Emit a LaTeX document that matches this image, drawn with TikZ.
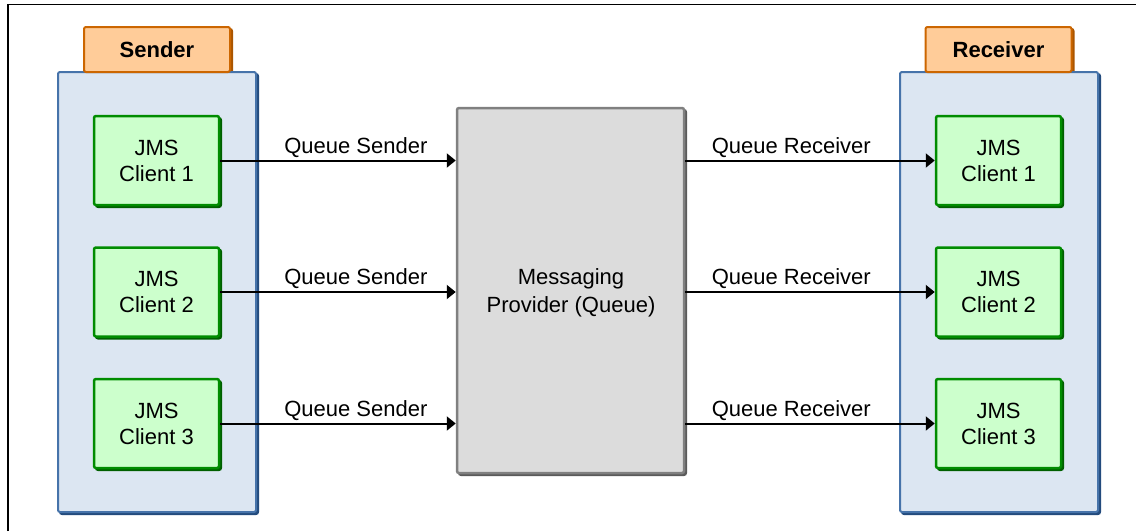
\documentclass[tikz,border=0pt]{standalone}
\usepackage{fontspec}
\setmainfont{Liberation Sans}
\usetikzlibrary{arrows.meta}

\definecolor{tabfill}{RGB}{255,204,153}
\definecolor{tabline}{RGB}{204,102,0}
\definecolor{tabshade}{RGB}{170,85,0}
\definecolor{grpfill}{RGB}{220,230,242}
\definecolor{grpline}{RGB}{70,115,170}
\definecolor{grpshade}{RGB}{35,75,125}
\definecolor{clifill}{RGB}{204,255,204}
\definecolor{cliline}{RGB}{0,140,0}
\definecolor{clishade}{RGB}{0,95,0}
\definecolor{provfill}{RGB}{220,220,220}
\definecolor{provline}{RGB}{128,128,128}
\definecolor{provshade}{RGB}{90,90,90}

\tikzset{
  box/.style={rectangle, rounded corners=2pt, inner sep=0pt, align=center,
    font=\fontsize{22}{26}\selectfont},
  shade/.style={box, fill=#1, draw=#1, line width=2pt},
  tabbox/.style={box, fill=tabfill, draw=tabline, line width=2pt,
    minimum width=146pt, minimum height=45pt, font=\fontsize{22}{26}\selectfont\bfseries},
  grpbox/.style={box, fill=grpfill, draw=grpline, line width=2pt,
    minimum width=198pt, minimum height=440pt},
  clibox/.style={box, fill=clifill, draw=cliline, line width=2.5pt,
    minimum width=125pt, minimum height=89pt},
  provbox/.style={box, fill=provfill, draw=provline, line width=2.5pt,
    minimum width=227pt, minimum height=365pt, font=\fontsize{22}{28}\selectfont},
  flow/.style={line width=2pt, -{Triangle[length=9pt,width=14pt]}},
  flowlabel/.style={anchor=base, yshift=7.5pt, inner sep=0pt,
    font=\fontsize{22}{26}\selectfont},
}

\begin{document}
\begin{tikzpicture}[x=1pt, y=-1pt]
  \useasboundingbox (0,0) rectangle (1136,531);

  % frame, open at the bottom and right
  \draw[line width=1.2pt] (8,531) -- (8,4.5) -- (1136,4.5);

  % drop shadows (darker copies offset to the lower right)
  \foreach \cx/\cy/\w/\h/\c in {157/292/198/440/grpshade, 999/292/198/440/grpshade,
      157/49.5/146/45/tabshade, 998.5/49.5/146/45/tabshade,
      570.5/290.5/227/365/provshade} {
    \node[shade=\c, minimum width=\w pt, minimum height=\h pt] at (\cx+2,\cy+2) {};
  }

  % sender side
  \node[grpbox] (sgrp) at (157,292) {};
  \node[tabbox] (stab) at (157,49.5) {Sender};
  % receiver side
  \node[grpbox] (rgrp) at (999,292) {};
  \node[tabbox] (rtab) at (998.5,49.5) {Receiver};

  % client shadows
  \foreach \cx in {156.5, 998.5} {
    \foreach \cy in {160.5, 292, 423.5} {
      \node[shade=clishade, minimum width=125pt, minimum height=89pt] at (\cx+2,\cy+2) {};
    }
  }

  % clients
  \node[clibox] (s1) at (156.5,160.5) {JMS\\Client 1};
  \node[clibox] (s2) at (156.5,292)   {JMS\\Client 2};
  \node[clibox] (s3) at (156.5,423.5) {JMS\\Client 3};
  \node[clibox] (r1) at (998.5,160.5) {JMS\\Client 1};
  \node[clibox] (r2) at (998.5,292)   {JMS\\Client 2};
  \node[clibox] (r3) at (998.5,423.5) {JMS\\Client 3};

  % messaging provider
  \node[provbox] (mp) at (570.5,290.5) {};
  \node[box, font=\fontsize{22}{28}\selectfont] (mptext) at (571,293) {Messaging\\Provider (Queue)};

  % senders to the queue
  \foreach \i in {1,2,3} {
    \draw[flow] (s\i.east) -- (mp.west |- s\i.east)
      node[flowlabel, pos=0.576] {Queue Sender};
  }
  % queue to receivers
  \foreach \i in {1,2,3} {
    \draw[flow] (mp.east |- r\i.west) -- (r\i.west)
      node[flowlabel, pos=0.425] {Queue Receiver};
  }
\end{tikzpicture}
\end{document}
